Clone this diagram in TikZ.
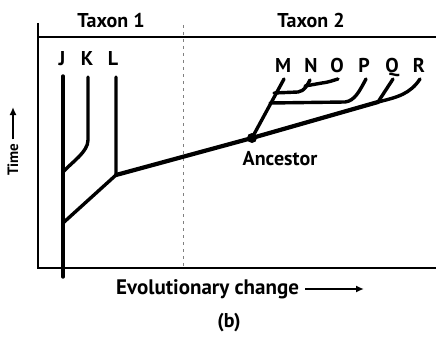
\documentclass[tikz,border=0pt]{standalone}
\usepackage{fontspec}
\setmainfont{PT Sans}
\usetikzlibrary{arrows.meta}
\begin{document}
\begin{tikzpicture}[x=1pt,y=-1pt,
  lbl/.style={font=\fontsize{20}{22}\selectfont\bfseries, inner sep=0pt},
  tip/.style={lbl, anchor=base},
  small/.style={font=\fontsize{15}{17}\selectfont\bfseries, inner sep=0pt},
  frame/.style={line width=1.8pt, black},
  branch/.style={line width=3.4pt, black, line cap=round, line join=round},
  trunk/.style={line width=4.2pt, black, line cap=round, line join=round},
  arr/.style={line width=1.8pt, -{Latex[length=8pt,width=7pt]}}]
\useasboundingbox (0,0) rectangle (436,337);
% frame
\coordinate (tl) at (38,23);
\coordinate (tj) at (38,37);
\coordinate (tr) at (436,37);
\coordinate (bl) at (38,268);
\coordinate (br) at (436,268);
\coordinate (dt) at (183,25);
\coordinate (db) at (183,268);
\draw[frame] (tl) -- (bl) -- (br);
\draw[frame] (tj) -- (tr);
\draw[line width=0.9pt, dash pattern=on 3pt off 4pt, gray] (dt) -- (db);
% titles
\node[lbl] (tx1) at (111,21) {Taxon 1};
\node[lbl] (tx2) at (311,21) {Taxon 2};
% tip labels
\node[tip] (J) at (62,66) {J};
\node[tip] (K) at (87,66) {K};
\node[tip] (L) at (113,66) {L};
\node[tip] (M) at (283,73) {M};
\node[tip] (N) at (311,73) {N};
\node[tip] (O) at (337,73) {O};
\node[tip] (P) at (364,73) {P};
\node[tip] (Q) at (392,73) {Q};
\node[tip] (R) at (419,73) {R};
% tree coordinates
\coordinate (Jt) at (63,76);
\coordinate (Jb) at (63,277);
\coordinate (Kt) at (88,77);
\coordinate (Kb) at (88,140);
\coordinate (KJ) at (63,172);
\coordinate (Lt) at (116,77);
\coordinate (Lb) at (116,175);
\coordinate (LJ) at (63,223);
\coordinate (QR) at (378,102);
\coordinate (Mt) at (284,79);
\coordinate (NM) at (274,93);
\coordinate (Nt) at (310,80);
\coordinate (ON) at (305,86);
\coordinate (Ot) at (338,79);
\coordinate (PM) at (270,103);
\coordinate (Pt) at (366,79);
\coordinate (Qt) at (393,79);
\coordinate (Rt) at (420,79);
% taxon 1
\draw[branch] (Jt) -- (Jb);
\draw[branch] (Kt) -- (Kb) .. controls (88,152) and (72,162) .. (KJ);
\draw[branch] (Lt) -- (Lb) -- (LJ);
% ancestor
\fill (252,138) circle (5pt) node[inner sep=0pt] (anc) {};
\node[lbl] (ancl) at (280,159) {Ancestor};
\draw[trunk] (Lb) -- (anc.center) -- (QR);
% taxon 2
\draw[branch] (anc.center) -- (Mt);
\draw[branch] (NM) -- (298,92) .. controls (305,91) and (307,85) .. (Nt);
\draw[branch] (ON) -- (322,83) .. controls (330,82) and (334,80) .. (Ot);
\draw[branch] (PM) -- (345,102) .. controls (355,101) and (360,90) .. (Pt);
\draw[branch] (QR) -- (Qt);
\draw[branch] (QR) .. controls (398,97) and (410,94) .. (Rt);
% axis labels
\node[small, rotate=90, anchor=west] (time) at (13,176) {Time};
\coordinate (tarr) at (13,107);
\draw[arr] ([shift={(0,-4)}]time.east) -- (tarr);
\node[lbl, font=\fontsize{21}{23}\selectfont\bfseries, anchor=west] (evo) at (116,289) {Evolutionary change};
\coordinate (earr) at (364,289);
\draw[arr] ([shift={(6,0)}]evo.east) -- (earr);
\node[lbl] (b) at (229,323) {(b)};
\end{tikzpicture}
\end{document}
